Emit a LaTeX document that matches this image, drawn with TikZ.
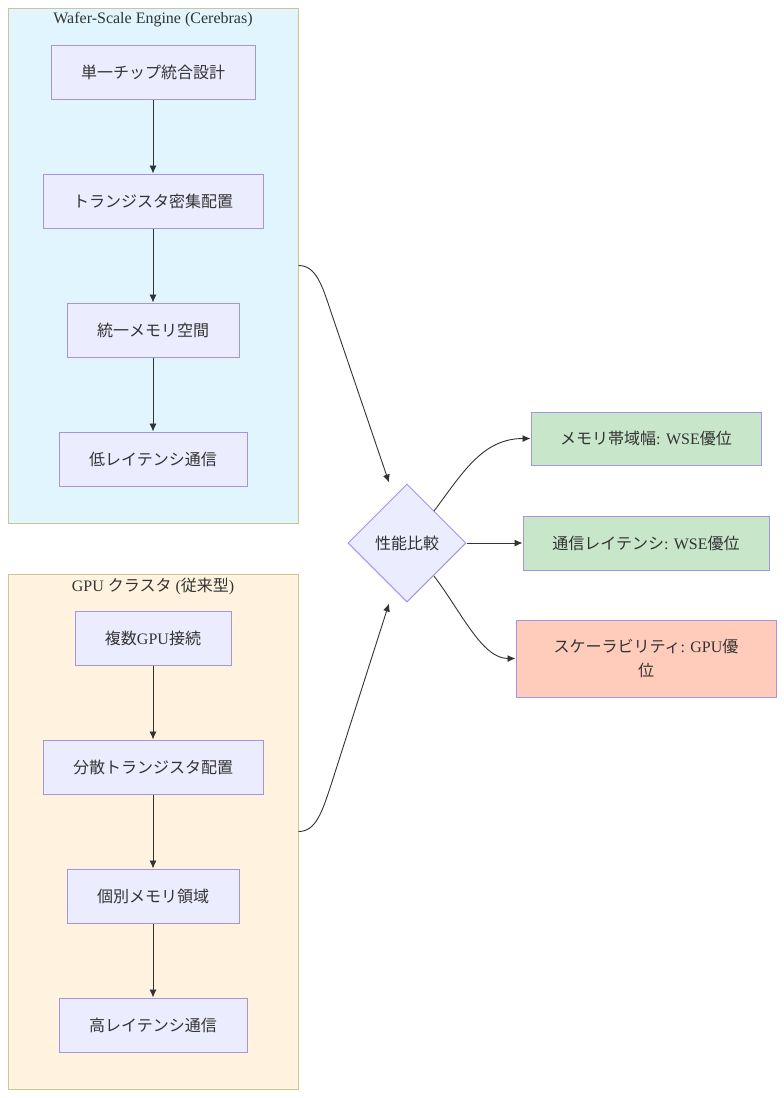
\documentclass[tikz,border=0pt]{standalone}
\usepackage{fontspec}
\setmainfont{Liberation Serif}
\newfontfamily\jp{Noto Sans CJK JP}
\usetikzlibrary{arrows.meta,shapes.geometric,calc}
\definecolor{txt}{HTML}{333333}
\definecolor{nodefill}{HTML}{ECECFF}
\definecolor{nodedraw}{HTML}{A595E0}
\definecolor{wsefill}{HTML}{E0F5FD}
\definecolor{gpufill}{HTML}{FFF3E0}
\definecolor{clusterdraw}{HTML}{C8C890}
\definecolor{goodfill}{HTML}{C8E6C9}
\definecolor{badfill}{HTML}{FFCCBC}
\definecolor{edge}{HTML}{333333}
\begin{document}
\begin{tikzpicture}[x=1pt,y=-1pt,
  every node/.style={font=\fontsize{16}{24}\selectfont, text=txt},
  cluster/.style={draw=clusterdraw, line width=1pt, minimum width=290pt, minimum height=515pt, inner sep=0pt},
  box/.style={draw=nodedraw, fill=nodefill, line width=1pt, minimum height=54pt, inner sep=0pt},
  resbox/.style={draw=nodedraw, line width=1pt, inner sep=0pt, align=center},
  decision/.style={diamond, draw=nodedraw, fill=nodefill, line width=1pt, minimum width=118pt, minimum height=118pt, inner sep=0pt},
  link/.style={draw=edge, line width=0.9pt, -{Latex[length=8pt,width=7pt]}}
]
\useasboundingbox (0,0) rectangle (784,1098);
\fill[white] (0,0) rectangle (784,1098);

% clusters
\node[cluster, fill=wsefill] (c1) at (153,265.5) {};
\node[cluster, fill=gpufill] (c2) at (153,831.5) {};
\node (t1) at (153,20) {Wafer-Scale Engine (Cerebras)};
\node (t2) at (153,586) {GPU {\jp クラスタ} ({\jp 従来型})};

% WSE nodes
\node[box, minimum width=204pt] (a1) at (153,72) {\jp 単一チップ統合設計};
\node[box, minimum width=220pt] (a2) at (153,201) {\jp トランジスタ密集配置};
\node[box, minimum width=172pt] (a3) at (153,330) {\jp 統一メモリ空間};
\node[box, minimum width=188pt] (a4) at (153,459) {\jp 低レイテンシ通信};

% GPU nodes
\node[box, minimum width=156pt] (b1) at (153,638) {{\jp 複数}GPU{\jp 接続}};
\node[box, minimum width=220pt] (b2) at (153,767) {\jp 分散トランジスタ配置};
\node[box, minimum width=172pt] (b3) at (153,896) {\jp 個別メモリ領域};
\node[box, minimum width=188pt] (b4) at (153,1025) {\jp 高レイテンシ通信};

% decision
\node[decision] (d) at (407,543) {\jp 性能比較};

% results
\node[resbox, fill=goodfill, minimum width=230pt, minimum height=53pt] (r1) at (646,438.5) {{\jp メモリ帯域幅}: WSE{\jp 優位}};
\node[resbox, fill=goodfill, minimum width=246pt, minimum height=54pt] (r2) at (646,543) {{\jp 通信レイテンシ}: WSE{\jp 優位}};
\node[resbox, fill=badfill, minimum width=260pt, minimum height=77pt] (r3) at (646,658.5) {{\jp スケーラビリティ}: GPU{\jp 優}\\{\jp 位}};

% edges inside clusters
\draw[link] (a1) -- (a2);
\draw[link] (a2) -- (a3);
\draw[link] (a3) -- (a4);
\draw[link] (b1) -- (b2);
\draw[link] (b2) -- (b3);
\draw[link] (b3) -- (b4);

% cluster to decision
\coordinate (d1) at ($(d.north)+(-18,-1)$);
\coordinate (d2) at ($(d.south)+(-18,1)$);
\draw[link] (c1.east) .. controls (316,265.5) and (322,285) .. (331,312) -- (d1);
\draw[link] (c2.east) .. controls (316,831.5) and (322,812) .. (331,785) -- (d2);

% decision to results
\coordinate (s1) at (434,511);
\coordinate (s3) at (434,576);
\draw[link] (s1) .. controls (462,474) and (482,438.5) .. (r1.west);
\draw[link] (d.east) -- (r2.west);
\draw[link] (s3) .. controls (462,613) and (482,658.5) .. (r3.west);
\end{tikzpicture}
\end{document}
